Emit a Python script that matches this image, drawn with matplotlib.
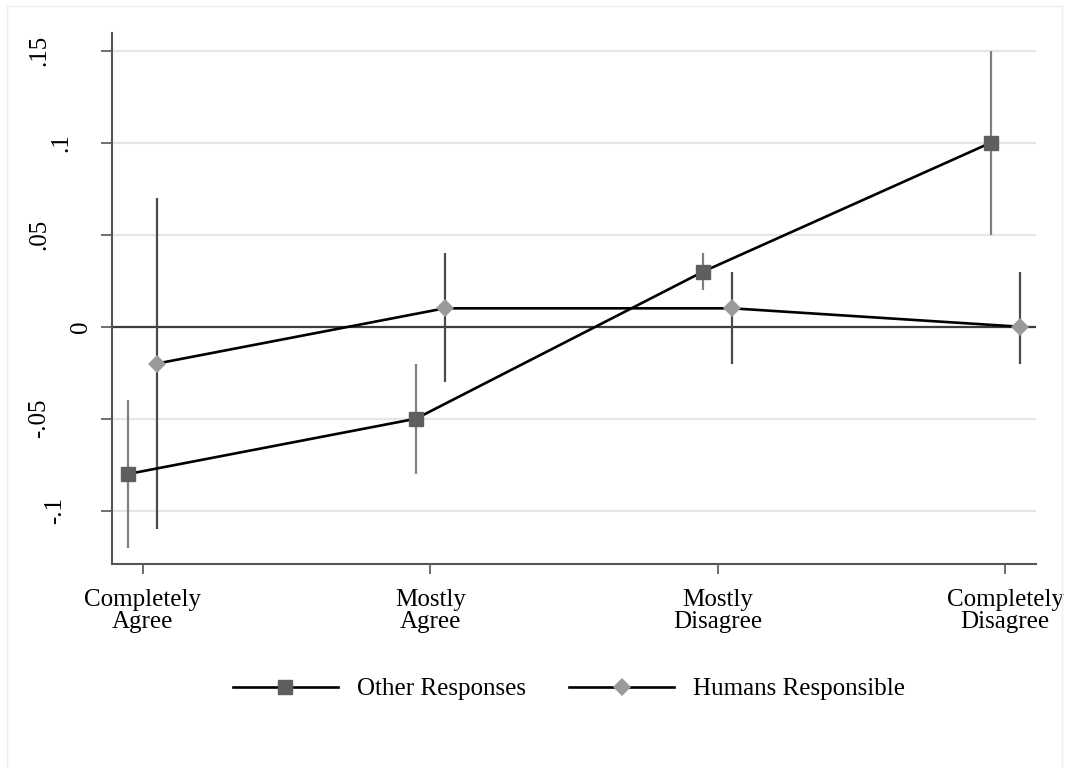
import matplotlib
matplotlib.use("Agg")
import matplotlib.pyplot as plt
from matplotlib.lines import Line2D
from matplotlib.transforms import blended_transform_factory
import numpy as np

plt.rcParams["font.family"] = ["Liberation Serif", "DejaVu Serif"]

# Response categories on the x axis
categories = ["Completely\nAgree", "Mostly\nAgree", "Mostly\nDisagree", "Completely\nDisagree"]

# Point estimates and confidence bounds per group
other_est = [-0.08, -0.05, 0.03, 0.10]
other_lo = [-0.12, -0.08, 0.02, 0.05]
other_hi = [-0.04, -0.02, 0.04, 0.15]

humans_est = [-0.02, 0.01, 0.01, 0.00]
humans_lo = [-0.11, -0.03, -0.02, -0.02]
humans_hi = [0.07, 0.04, 0.03, 0.03]

ytick_values = [-0.1, -0.05, 0, 0.05, 0.1, 0.15]
ytick_labels = ["-.1", "-.05", "0", ".05", ".1", ".15"]

series_labels = ["Other Responses", "Humans Responsible"]

W, H = 1067, 768
fig = plt.figure(figsize=(W / 100, H / 100), dpi=100)
fig.patch.set_facecolor("white")

ax_left, ax_right, ax_top, ax_bottom = 112, 1036, 33, 564.3
ax = fig.add_axes([ax_left / W, 1 - ax_bottom / H,
                   (ax_right - ax_left) / W, (ax_bottom - ax_top) / H])

x = np.arange(1, len(categories) + 1)
shift = 0.05
x_other = x - shift
x_humans = x + shift

spine_col = "#555555"
fs = 18

# light horizontal grid, dark reference line at zero
for v in ytick_values:
    if v == 0:
        ax.axhline(v, color="#3c3c3c", lw=1.6, zorder=2)
    else:
        ax.axhline(v, color="#e6e6e6", lw=1.6, zorder=1)

# confidence intervals
ax.vlines(x_other, other_lo, other_hi, color="#808080", lw=1.6, zorder=3)
ax.vlines(x_humans, humans_lo, humans_hi, color="#4a4a4a", lw=1.6, zorder=3)

# connected estimates
ax.plot(x_other, other_est, color="black", lw=1.9, zorder=4)
ax.plot(x_humans, humans_est, color="black", lw=1.9, zorder=4)
ax.plot(x_other, other_est, ls="none", marker="s", ms=10, mfc="#5e5e5e",
        mec="#5e5e5e", zorder=5)
ax.plot(x_humans, humans_est, ls="none", marker="D", ms=9.2, mfc="#9a9a9a",
        mec="#9a9a9a", mew=0, zorder=5)

ax.set_xlim(0.893, 4.107)
ax.set_ylim(-0.1291, 0.1596)

for side in ["top", "right"]:
    ax.spines[side].set_visible(False)
for side in ["left", "bottom"]:
    ax.spines[side].set_color(spine_col)
    ax.spines[side].set_linewidth(1.5)

ax.set_xticks(x)
ax.set_xticklabels(categories, fontsize=fs, linespacing=1.05)
ax.tick_params(axis="x", length=7.5, width=1.2, color=spine_col, pad=10)

ax.set_yticks(ytick_values)
ax.set_yticklabels([])
ax.tick_params(axis="y", length=8, width=1.2, color=spine_col)

# rotated y tick labels
label_x_px = {".15": 39.5, ".1": 61, ".05": 39, "0": 81, "-.05": 39, "-.1": 55}
trans = blended_transform_factory(fig.transFigure, ax.transData)
for v, lab in zip(ytick_values, ytick_labels):
    ax.text(label_x_px[lab] / W, v, lab, transform=trans, rotation=90,
            ha="center", va="center", fontsize=fs, clip_on=False)

# legend
handles = [
    Line2D([], [], color="black", lw=1.9, marker="s", ms=10,
           mfc="#5e5e5e", mec="#5e5e5e"),
    Line2D([], [], color="black", lw=1.9, marker="D", ms=9.2,
           mfc="#9a9a9a", mec="#9a9a9a", mew=0),
]
fig.legend(handles, series_labels, loc="center", ncol=2, frameon=False,
           fontsize=fs, handlelength=4.2, handletextpad=0.75, columnspacing=1.75,
           bbox_to_anchor=(569 / W, 1 - 689 / H))

# faint outer frame
frame_col = "#eeeeee"
fig.add_artist(Line2D([7 / W, 7 / W], [0, 1 - 6 / H], color=frame_col, lw=1))
fig.add_artist(Line2D([7 / W, 1062 / W], [1 - 6 / H, 1 - 6 / H], color=frame_col, lw=1))
fig.add_artist(Line2D([1062 / W, 1062 / W], [0, 1 - 6 / H], color=frame_col, lw=1))

fig.savefig("out.png", dpi=100, facecolor="white")
